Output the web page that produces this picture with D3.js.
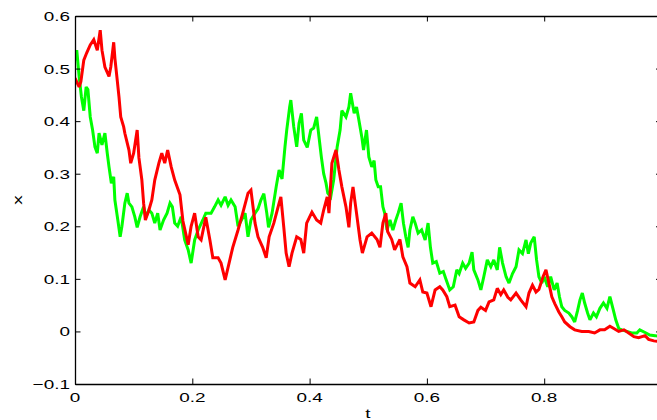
<!DOCTYPE html>
<html>
<head>
<meta charset="utf-8">
<script src="https://cdn.jsdelivr.net/npm/d3@7"></script>
<style>
  html, body { margin: 0; padding: 0; background: #fff; overflow: hidden; }
  svg { display: block; }
  text { font-family: "Liberation Sans", Arial, Helvetica, sans-serif; fill: #000; }
</style>
</head>
<body>
<svg id="chart" width="657" height="420"></svg>
<script>
// tick values
var tTicks = [0, 0.2, 0.4, 0.6, 0.8, 1.0];
var xTicks = [-0.1, 0, 0.1, 0.2, 0.3, 0.4, 0.5, 0.6];

// green path
var greenT = [0, 0.003, 0.007, 0.011, 0.015, 0.019, 0.022, 0.026, 0.030, 0.034, 0.038, 0.041, 0.046, 0.051, 0.055, 0.058,
  0.062, 0.066, 0.068, 0.073, 0.077, 0.080, 0.085, 0.089, 0.092, 0.097, 0.102, 0.106, 0.111, 0.117, 0.121, 0.126,
  0.131, 0.136, 0.141, 0.145, 0.151, 0.157, 0.162, 0.166, 0.170, 0.175, 0.181, 0.187, 0.193, 0.198, 0.204, 0.210,
  0.218, 0.223, 0.232, 0.238, 0.244, 0.249, 0.256, 0.261, 0.266, 0.273, 0.278, 0.283, 0.290, 0.295, 0.300, 0.307,
  0.312, 0.317, 0.322, 0.327, 0.330, 0.336, 0.343, 0.348, 0.353, 0.358, 0.361, 0.366, 0.368, 0.373, 0.378, 0.382,
  0.386, 0.390, 0.396, 0.402, 0.407, 0.412, 0.416, 0.420, 0.424, 0.428, 0.431, 0.436, 0.441, 0.447, 0.452, 0.455,
  0.462, 0.467, 0.470, 0.476, 0.480, 0.484, 0.489, 0.492, 0.497, 0.501, 0.506, 0.510, 0.513, 0.517, 0.521, 0.525,
  0.528, 0.532, 0.537, 0.542, 0.547, 0.551, 0.556, 0.560, 0.564, 0.568, 0.571, 0.576, 0.580, 0.585, 0.591, 0.597,
  0.602, 0.606, 0.610, 0.616, 0.622, 0.628, 0.633, 0.639, 0.645, 0.651, 0.655, 0.661, 0.666, 0.672, 0.677, 0.680,
  0.687, 0.692, 0.697, 0.703, 0.709, 0.714, 0.720, 0.724, 0.729, 0.735, 0.740, 0.746, 0.752, 0.757, 0.763, 0.769,
  0.773, 0.777, 0.783, 0.787, 0.791, 0.796, 0.800, 0.806, 0.811, 0.817, 0.822, 0.826, 0.830, 0.835, 0.842, 0.847,
  0.852, 0.857, 0.861, 0.865, 0.869, 0.874, 0.878, 0.884, 0.889, 0.895, 0.901, 0.907, 0.912, 0.918, 0.922, 0.927,
  0.932, 0.941, 0.949, 0.958, 0.963, 0.972, 0.980, 0.989, 1.000];
var greenX = [0.516, 0.535, 0.485, 0.446, 0.420, 0.465, 0.460, 0.408, 0.383, 0.351, 0.339, 0.377, 0.355, 0.377, 0.339, 0.313,
  0.282, 0.294, 0.250, 0.212, 0.180, 0.200, 0.244, 0.263, 0.244, 0.237, 0.218, 0.198, 0.218, 0.237, 0.218, 0.231,
  0.225, 0.206, 0.225, 0.193, 0.212, 0.225, 0.244, 0.237, 0.206, 0.200, 0.218, 0.174, 0.155, 0.130, 0.174, 0.193,
  0.212, 0.225, 0.225, 0.237, 0.250, 0.240, 0.256, 0.240, 0.250, 0.237, 0.200, 0.210, 0.225, 0.180, 0.212, 0.225,
  0.233, 0.250, 0.262, 0.225, 0.198, 0.225, 0.275, 0.307, 0.290, 0.351, 0.383, 0.427, 0.440, 0.389, 0.351, 0.396,
  0.415, 0.364, 0.350, 0.383, 0.387, 0.408, 0.370, 0.332, 0.300, 0.282, 0.263, 0.256, 0.288, 0.351, 0.383, 0.420,
  0.408, 0.427, 0.453, 0.415, 0.427, 0.402, 0.370, 0.345, 0.383, 0.332, 0.313, 0.325, 0.288, 0.275, 0.275, 0.237,
  0.225, 0.193, 0.212, 0.193, 0.212, 0.225, 0.244, 0.206, 0.180, 0.160, 0.193, 0.218, 0.206, 0.187, 0.193, 0.174,
  0.206, 0.160, 0.130, 0.133, 0.111, 0.114, 0.098, 0.079, 0.085, 0.117, 0.110, 0.130, 0.120, 0.130, 0.151, 0.117,
  0.098, 0.079, 0.104, 0.136, 0.123, 0.136, 0.117, 0.160, 0.130, 0.104, 0.092, 0.110, 0.123, 0.155, 0.148, 0.174,
  0.148, 0.168, 0.180, 0.136, 0.104, 0.092, 0.104, 0.085, 0.104, 0.079, 0.092, 0.066, 0.047, 0.040, 0.035, 0.028,
  0.018, 0.040, 0.060, 0.073, 0.054, 0.035, 0.022, 0.035, 0.028, 0.044, 0.054, 0.044, 0.066, 0.040, 0.022, 0.006,
  0.003, 0.000, -0.003, -0.003, 0.003, -0.002, -0.007, -0.008, -0.010];

// red path
var redT = [0, 0.007, 0.010, 0.015, 0.020, 0.026, 0.032, 0.038, 0.043, 0.046, 0.051, 0.058, 0.061, 0.066, 0.068, 0.072,
  0.075, 0.078, 0.083, 0.085, 0.092, 0.095, 0.100, 0.106, 0.109, 0.114, 0.117, 0.120, 0.126, 0.131, 0.136, 0.143,
  0.148, 0.153, 0.158, 0.164, 0.170, 0.179, 0.184, 0.193, 0.198, 0.204, 0.210, 0.215, 0.223, 0.230, 0.235, 0.244,
  0.249, 0.256, 0.261, 0.269, 0.278, 0.286, 0.295, 0.300, 0.307, 0.312, 0.320, 0.326, 0.331, 0.339, 0.348, 0.351,
  0.356, 0.360, 0.365, 0.370, 0.378, 0.385, 0.390, 0.395, 0.404, 0.412, 0.419, 0.424, 0.430, 0.433, 0.438, 0.445,
  0.450, 0.455, 0.462, 0.467, 0.470, 0.474, 0.480, 0.486, 0.490, 0.498, 0.506, 0.515, 0.520, 0.525, 0.530, 0.533,
  0.540, 0.545, 0.554, 0.559, 0.566, 0.571, 0.580, 0.588, 0.593, 0.600, 0.607, 0.614, 0.622, 0.627, 0.634, 0.639,
  0.648, 0.655, 0.663, 0.672, 0.680, 0.687, 0.692, 0.700, 0.706, 0.714, 0.720, 0.726, 0.731, 0.738, 0.743, 0.752,
  0.760, 0.769, 0.774, 0.780, 0.786, 0.791, 0.798, 0.803, 0.808, 0.813, 0.818, 0.825, 0.830, 0.835, 0.844, 0.852,
  0.864, 0.876, 0.886, 0.895, 0.903, 0.912, 0.918, 0.927, 0.936, 0.944, 0.953, 0.961, 0.972, 0.978, 0.987, 1.000];
var redX = [0.482, 0.465, 0.475, 0.516, 0.530, 0.545, 0.555, 0.535, 0.573, 0.535, 0.503, 0.485, 0.503, 0.550, 0.520, 0.478,
  0.446, 0.408, 0.389, 0.377, 0.345, 0.320, 0.339, 0.383, 0.330, 0.288, 0.244, 0.212, 0.231, 0.250, 0.288, 0.320,
  0.339, 0.320, 0.345, 0.313, 0.288, 0.260, 0.210, 0.165, 0.200, 0.225, 0.180, 0.174, 0.217, 0.174, 0.140, 0.140,
  0.130, 0.098, 0.122, 0.160, 0.193, 0.225, 0.263, 0.269, 0.206, 0.180, 0.160, 0.140, 0.180, 0.206, 0.244, 0.256,
  0.198, 0.149, 0.123, 0.149, 0.180, 0.175, 0.149, 0.206, 0.227, 0.212, 0.206, 0.231, 0.256, 0.225, 0.320, 0.345,
  0.307, 0.275, 0.237, 0.198, 0.244, 0.275, 0.225, 0.174, 0.149, 0.180, 0.187, 0.175, 0.160, 0.206, 0.225, 0.190,
  0.175, 0.155, 0.175, 0.142, 0.123, 0.092, 0.085, 0.098, 0.075, 0.073, 0.047, 0.079, 0.085, 0.079, 0.066, 0.047,
  0.050, 0.028, 0.022, 0.016, 0.018, 0.040, 0.046, 0.040, 0.056, 0.060, 0.082, 0.070, 0.079, 0.065, 0.060, 0.073,
  0.060, 0.047, 0.073, 0.088, 0.075, 0.080, 0.104, 0.117, 0.092, 0.066, 0.053, 0.037, 0.028, 0.018, 0.009, 0.003,
  0.000, 0.000, -0.003, 0.003, 0.003, 0.010, 0.006, 0.000, 0.003, -0.003, -0.010, -0.012, -0.008, -0.015, -0.018, -0.020];

/* ---- layout ---- */
var svg = d3.select("#chart");
var plotL = 75, plotR = 661.5, plotT = 16, plotB = 384;
var tickLen = 5.5;
var stretch = 1.4;   // the tick font in the picture is wide

var xScale = d3.scaleLinear().domain([0, 1]).range([plotL, plotR]);
var yScale = d3.scaleLinear().domain([-0.1, 0.6]).range([plotB, plotT]);

// clip for the two traces
svg.append("defs").append("clipPath").attr("id", "plotclip")
  .append("rect").attr("x", plotL).attr("y", plotT).attr("width", plotR - plotL).attr("height", plotB - plotT);

function zip(ts, xs) {
  return ts.map(function (t, i) { return [t, xs[i]]; });
}

var line = d3.line()
  .x(function (d) { return xScale(d[0]); })
  .y(function (d) { return yScale(d[1]); });

var traces = svg.append("g").attr("clip-path", "url(#plotclip)");
traces.append("path")
  .attr("d", line(zip(greenT, greenX)))
  .attr("fill", "none").attr("stroke", "#00ff00").attr("stroke-width", 3)
  .attr("stroke-linejoin", "miter").attr("stroke-miterlimit", 2.5);
traces.append("path")
  .attr("d", line(zip(redT, redX)))
  .attr("fill", "none").attr("stroke", "#ff0000").attr("stroke-width", 3)
  .attr("stroke-linejoin", "miter").attr("stroke-miterlimit", 2.5);

/* ---- axes box with inward ticks ---- */
var fmt = function (d) { return d3.format(".1~f")(d); };

svg.append("g").attr("transform", "translate(0," + plotB + ")")
  .call(d3.axisBottom(xScale).tickValues(tTicks).tickSize(-tickLen).tickSizeOuter(0).tickFormat(""));
svg.append("g").attr("transform", "translate(0," + plotT + ")")
  .call(d3.axisTop(xScale).tickValues(tTicks).tickSize(-tickLen).tickSizeOuter(0).tickFormat(""));
svg.append("g").attr("transform", "translate(" + plotL + ",0)")
  .call(d3.axisLeft(yScale).tickValues(xTicks).tickSize(-tickLen).tickSizeOuter(0).tickFormat(""));
svg.append("g").attr("transform", "translate(" + plotR + ",0)")
  .call(d3.axisRight(yScale).tickValues(xTicks).tickSize(-tickLen).tickSizeOuter(0).tickFormat(""));

svg.selectAll(".domain").attr("stroke", "#000").attr("stroke-width", 1.3);
svg.selectAll(".tick line").attr("stroke", "#000").attr("stroke-width", 1);

/* ---- tick labels ---- */
svg.append("g").selectAll("text").data(tTicks).join("text")
  .attr("transform", function (d) { return "translate(" + xScale(d) + "," + (plotB + 18) + ") scale(" + stretch + ",1)"; })
  .attr("text-anchor", "middle")
  .style("font-size", "13.5px")
  .text(fmt);

svg.append("g").selectAll("text").data(xTicks).join("text")
  .attr("transform", function (d) { return "translate(" + (plotL - 5) + "," + (yScale(d) + 5) + ") scale(" + stretch + ",1)"; })
  .attr("text-anchor", "end")
  .style("font-size", "13.5px")
  .text(fmt);

/* ---- axis titles ---- */
svg.append("text")
  .attr("transform", "translate(22,200) rotate(-90) scale(" + stretch + ",1)")
  .attr("text-anchor", "middle")
  .style("font-size", "13.5px")
  .text("x");

svg.append("text")
  .attr("transform", "translate(368,418) scale(" + stretch + ",1)")
  .attr("text-anchor", "middle")
  .style("font-size", "13.5px")
  .text("t");
</script>
</body>
</html>
